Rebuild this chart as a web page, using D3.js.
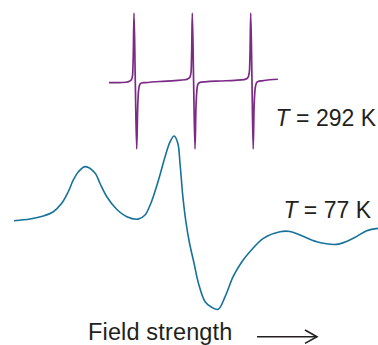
<!DOCTYPE html>
<html>
<head>
<meta charset="utf-8">
<script src="https://cdn.jsdelivr.net/npm/d3@7"></script>
<style>
  html, body { margin: 0; padding: 0; background: #fff; }
  svg { display: block; }
  text { font-family: "Liberation Sans", Arial, sans-serif; fill: #231f20; }
</style>
</head>
<body>
<script>
// ---- Data (field strength in arbitrary units 0-100, intensity in arbitrary units) ----
// T = 292 K spectrum (three narrow derivative lines)
const field292 = [26.1, 28.6, 30.8, 31.73, 32.28, 32.58, 32.77, 32.97, 33.32, 33.71, 33.96, 34.23, 34.56, 35.03, 36.0, 40.1, 44.2, 47.0,
  47.80, 48.35, 48.65, 48.82, 48.98, 49.34, 49.73, 49.97, 50.25, 50.55, 51.1, 52.5, 56.6, 60.7, 63.2,
  64.01, 64.45, 64.70, 64.86, 65.03, 65.38, 65.71, 65.93, 66.21, 66.54, 67.03, 68.1, 70.3, 72.5];
const signal292 = [-2.5, -2.4, -1.8, -0.3, 2.2, 8.8, 38.2, 100, 0, -100, -42.6, -13.2, -5.1, -2.9, -2.4, -0.7, 0.6, 1.8,
  3.2, 5.9, 13.2, 45.6, 100, 0, -100, -42.6, -13.2, -4.4, -1.9, -1.2, 0, 1.0, 2.1,
  3.7, 7.4, 16.2, 45.6, 100, 0, -100, -42.6, -13.2, -3.7, -0.7, 0.3, 1.8, 2.6];

// T = 77 K spectrum (broad anisotropic signal)
const field77 = [0, 4.4, 8.05, 10.8, 13.1, 14.9, 16.3, 17.7, 19.6, 22.3, 23.6, 25.5, 28.2, 31.0, 34.1, 36.0, 37.4, 38.7, 40.1,
  41.5, 42.9, 44.0, 45.0, 45.6, 46.37, 47.2, 48.21, 49.45, 50.69, 52.5, 54.3, 56.1, 58.0, 60.2, 62.6, 64.8, 68.5, 73.1, 75.8,
  78.6, 83.2, 88.7, 93.2, 96.9, 100];
const signal77 = [0, 2.0, 5.5, 10.6, 20.5, 34.2, 48.1, 57.8, 63.9, 56.0, 44.2, 28.3, 13.5, 4.7, 1.9, 6.7, 18.5, 34.2, 54.0,
  75.6, 93.3, 100, 91.4, 68.1, 29.4, -0.4, -26.3, -49.9, -74.1, -95.6, -102.2, -104.6, -89.7, -66.1, -48.4, -36.6, -20.8, -13.0, -12.7,
  -16.9, -24.8, -27.9, -20.8, -11.8, -9.0];

const labels = ["T = 292 K", "T = 77 K"];
const axisTitle = "Field strength";

// ---- Drawing ----
const W = 378, H = 345;
const svg = d3.select("body").append("svg").attr("width", W).attr("height", H);
svg.append("rect").attr("width", W).attr("height", H).attr("fill", "#fff");

const x = d3.scaleLinear().domain([0, 100]).range([14, 378]);
const y292 = d3.scaleLinear().domain([-100, 100]).range([149, 13]);
const y77 = d3.scaleLinear().domain([0, 100]).range([220.7, 136]);

const pts292 = field292.map((f, i) => [f, signal292[i]]);
const pts77 = field77.map((f, i) => [f, signal77[i]]);

const line292 = d3.line().x(d => x(d[0])).y(d => y292(d[1])).curve(d3.curveMonotoneX);
const line77 = d3.line().x(d => x(d[0])).y(d => y77(d[1])).curve(d3.curveCatmullRom.alpha(0.5));

svg.append("path").datum(pts292).attr("d", line292)
  .attr("fill", "none").attr("stroke", "#7b2a86").attr("stroke-width", 1.7).attr("stroke-linejoin", "round");
svg.append("path").datum(pts77).attr("d", line77)
  .attr("fill", "none").attr("stroke", "#17729a").attr("stroke-width", 1.6).attr("stroke-linejoin", "round");

function tLabel(txt, xr, yb) {
  const t = svg.append("text").attr("x", xr).attr("y", yb).attr("text-anchor", "end").attr("font-size", 23);
  t.append("tspan").attr("font-style", "italic").text(txt.slice(0, 1));
  t.append("tspan").text(txt.slice(1));
}
tLabel(labels[0], 376, 126);
tLabel(labels[1], 371, 218);

svg.append("text").attr("x", 88).attr("y", 340).attr("font-size", 23.5).attr("letter-spacing", 0.15).text(axisTitle);

// arrow
const ax = d3.scaleLinear().domain([0, 1]).range([257, 317]);
svg.append("line").attr("x1", ax(0)).attr("x2", ax(1)).attr("y1", 336.7).attr("y2", 336.7)
  .attr("stroke", "#231f20").attr("stroke-width", 1.6);
svg.append("path").attr("d", `M${ax(1) - 12},330 L${ax(1)},336.7 L${ax(1) - 12},343.4`)
  .attr("fill", "none").attr("stroke", "#231f20").attr("stroke-width", 1.6);
</script>
</body>
</html>
